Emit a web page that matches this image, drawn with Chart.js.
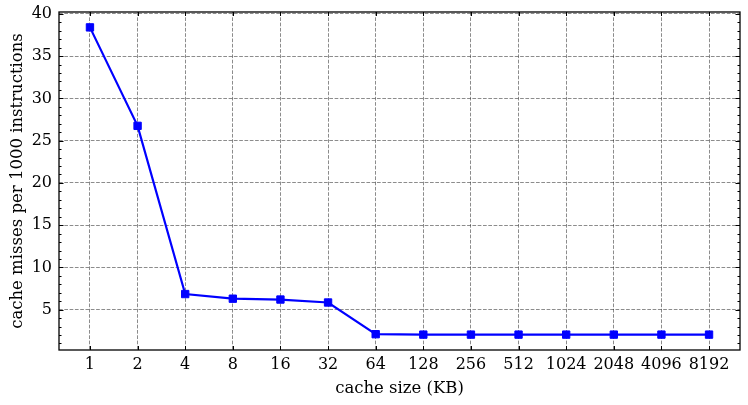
<!DOCTYPE html>
<html lang="en">
<head>
<meta charset="UTF-8">
<title>Cache misses vs cache size</title>
<script src="https://cdn.jsdelivr.net/npm/chart.js"></script>
<style>
  html, body { margin: 0; padding: 0; background: #fff; }
  #wrap { width: 748px; height: 405px; }
</style>
</head>
<body>
<div id="wrap"><canvas id="chart"></canvas></div>
<script>
// data
const cacheSizes = ['1', '2', '4', '8', '16', '32', '64', '128', '256', '512', '1024', '2048', '4096', '8192'];
const missesPer1000 = [38.4, 26.75, 6.85, 6.3, 6.2, 5.85, 2.1, 2.05, 2.05, 2.05, 2.05, 2.05, 2.05, 2.05];
const yTicks = [5, 10, 15, 20, 25, 30, 35, 40];
const yMinorTicks = [1, 2, 3, 4, 6, 7, 8, 9, 11, 12, 13, 14, 16, 17, 18, 19, 21, 22, 23, 24, 26, 27, 28, 29, 31, 32, 33, 34, 36, 37, 38, 39];

const serif = "'DejaVu Serif', serif";

// inward ticks on all four sides + black frame, matplotlib style
const frameTicks = {
    id: 'frameTicks',
    afterDraw(chart) {
        const { ctx, chartArea: a, scales: { x, y } } = chart;
        ctx.save();
        ctx.strokeStyle = '#000';
        ctx.lineWidth = 1;
        ctx.beginPath();
        cacheSizes.forEach((_, i) => {
            const px = Math.round(x.getPixelForValue(i)) + 0.5;
            ctx.moveTo(px, a.bottom); ctx.lineTo(px, a.bottom - 4);
            ctx.moveTo(px, a.top); ctx.lineTo(px, a.top + 4);
        });
        const tick = (v, len) => {
            const py = Math.round(y.getPixelForValue(v)) + 0.5;
            ctx.moveTo(a.left, py); ctx.lineTo(a.left + len, py);
            ctx.moveTo(a.right, py); ctx.lineTo(a.right - len, py);
        };
        yTicks.forEach(v => tick(v, 4.5));
        yMinorTicks.forEach(v => tick(v, 2.5));
        ctx.stroke();
        ctx.lineWidth = 1.3;
        ctx.strokeRect(a.left, a.top, a.right - a.left, a.bottom - a.top);
        ctx.restore();
    }
};

// fixed axis boxes so the plot area sits where the reference has it
const noPad = s => { s.paddingTop = 0; s.paddingBottom = 0; s.paddingLeft = 0; s.paddingRight = 0; };

new Chart(document.getElementById('chart'), {
    type: 'line',
    data: {
        datasets: [{
            data: missesPer1000.map((v, i) => ({ x: i, y: v })),
            borderColor: '#0000ff',
            backgroundColor: '#0000ff',
            borderWidth: 2.2,
            pointStyle: 'rect',
            pointRadius: 5.2,
            pointBorderWidth: 1,
            tension: 0
        }]
    },
    plugins: [frameTicks],
    options: {
        responsive: true,
        maintainAspectRatio: false,
        animation: false,
        devicePixelRatio: 1,
        layout: { padding: { top: 12, right: 8, left: 0, bottom: 0 } },
        plugins: { legend: { display: false }, tooltip: { enabled: false } },
        scales: {
            x: {
                type: 'linear',
                min: -0.65,
                max: 13.65,
                afterBuildTicks: s => { s.ticks = cacheSizes.map((_, i) => ({ value: i })); },
                afterFit: s => { s.height = 55; noPad(s); },
                ticks: {
                    callback: v => cacheSizes[v],
                    color: '#000',
                    font: { family: serif, size: 16 },
                    padding: 5,
                    maxRotation: 0,
                    autoSkip: false
                },
                grid: { color: 'rgba(0,0,0,0.45)', lineWidth: 1, drawTicks: false },
                border: { display: false, dash: [3.7, 1.6] },
                title: {
                    display: true,
                    text: 'cache size (KB)',
                    color: '#000',
                    font: { family: serif, size: 16.5 },
                    padding: { top: 0, bottom: 6 }
                }
            },
            y: {
                min: 0.23,
                max: 40.22,
                afterBuildTicks: s => { s.ticks = yTicks.map(v => ({ value: v })); },
                afterFit: s => { s.width = 59; noPad(s); },
                ticks: {
                    color: '#000',
                    font: { family: serif, size: 16 },
                    padding: 7
                },
                grid: { color: 'rgba(0,0,0,0.45)', lineWidth: 1, drawTicks: false },
                border: { display: false, dash: [3.7, 1.6] },
                title: {
                    display: true,
                    text: 'cache misses per 1000 instructions',
                    color: '#000',
                    font: { family: serif, size: 16.5 },
                    padding: { top: 8, bottom: 0 }
                }
            }
        }
    }
});
</script>
</body>
</html>
